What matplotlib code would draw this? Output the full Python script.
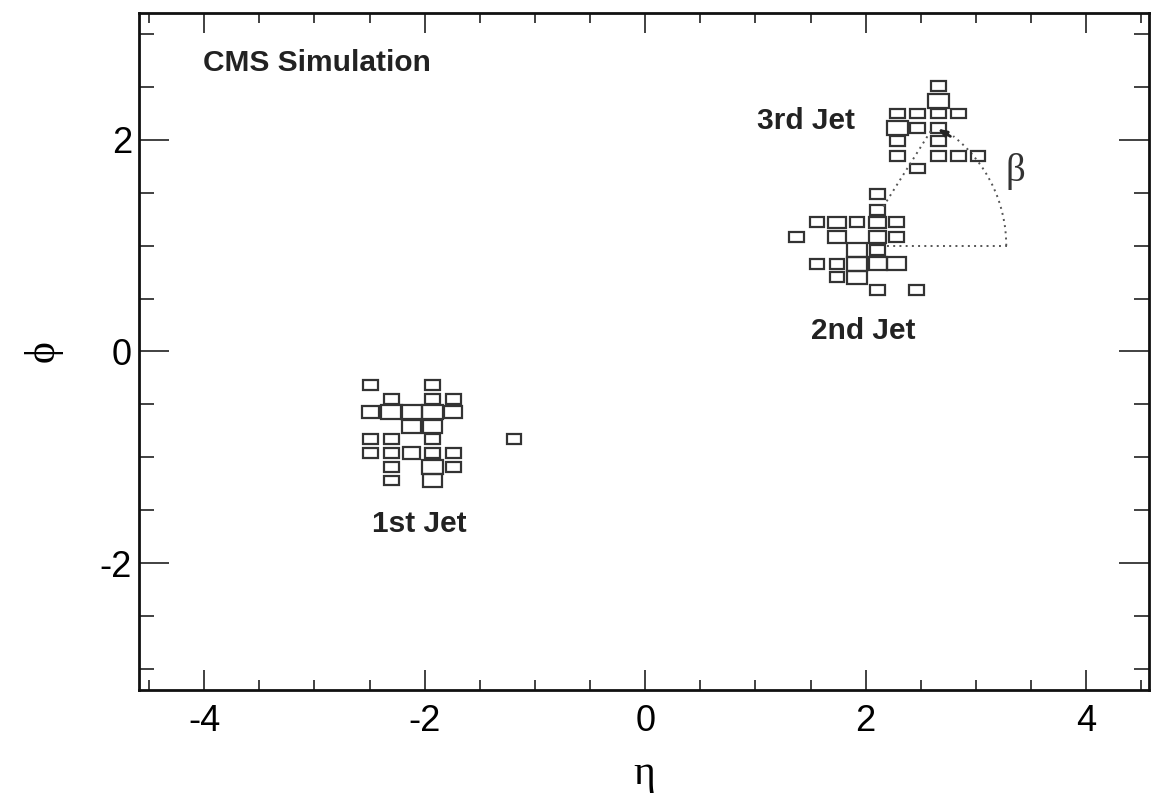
import matplotlib
matplotlib.use("Agg")
import matplotlib.pyplot as plt
from matplotlib.patches import Rectangle, Arc
from matplotlib.ticker import MultipleLocator

plt.rcParams['font.family'] = ['Liberation Sans', 'DejaVu Sans']
plt.rcParams['axes.unicode_minus'] = False

# calorimeter towers: eta, phi, relative box size
jet1_eta = [-2.49, -1.93,
            -2.30, -1.93, -1.74,
            -2.49, -2.30, -2.12, -1.93, -1.74,
            -2.12, -1.93,
            -2.49, -2.30, -1.93, -1.19,
            -2.49, -2.30, -2.12, -1.93, -1.74,
            -2.30, -1.93, -1.74,
            -2.30, -1.93]
jet1_phi = [-0.32, -0.32,
            -0.45, -0.45, -0.45,
            -0.57, -0.57, -0.57, -0.57, -0.57,
            -0.71, -0.71,
            -0.83, -0.83, -0.83, -0.83,
            -0.96, -0.96, -0.96, -0.96, -0.96,
            -1.09, -1.09, -1.09,
            -1.22, -1.22]
jet1_size = [0.72, 0.72,
             0.72, 0.72, 0.72,
             0.85, 1.0, 1.0, 1.0, 0.87,
             0.9, 0.9,
             0.72, 0.72, 0.72, 0.72,
             0.72, 0.72, 0.82, 0.72, 0.72,
             0.72, 1.0, 0.72,
             0.72, 0.9]

jet2_eta = [2.11, 2.11,
            1.56, 1.74, 1.92, 2.11, 2.28,
            1.37, 1.74, 2.11, 2.28,
            1.92, 2.11,
            1.56, 1.74, 1.92, 2.11, 2.28,
            1.74, 1.92,
            2.11, 2.46]
jet2_phi = [1.485, 1.34,
            1.22, 1.22, 1.22, 1.22, 1.22,
            1.085, 1.085, 1.085, 1.085,
            0.96, 0.96,
            0.83, 0.83, 0.83, 0.83, 0.83,
            0.70, 0.70,
            0.58, 0.58]
jet2_size = [0.72, 0.72,
             0.72, 0.85, 0.72, 0.85, 0.72,
             0.72, 0.85, 0.85, 0.72,
             1.0, 0.72,
             0.72, 0.72, 1.0, 0.9, 0.95,
             0.72, 1.0,
             0.72, 0.72]

jet3_eta = [2.66, 2.66,
            2.29, 2.47, 2.66, 2.84,
            2.29, 2.47, 2.66,
            2.29, 2.66,
            2.29, 2.66, 2.84, 3.02,
            2.47]
jet3_phi = [2.51, 2.37,
            2.25, 2.25, 2.25, 2.25,
            2.11, 2.11, 2.11,
            1.99, 1.99,
            1.85, 1.85, 1.85, 1.85,
            1.73]
jet3_size = [0.72, 1.05,
             0.72, 0.72, 0.72, 0.72,
             1.0, 0.72, 0.72,
             0.72, 0.72,
             0.72, 0.72, 0.72, 0.72,
             0.72]

jet_labels = ["1st Jet", "2nd Jet", "3rd Jet"]
label_eta = [-2.05, 1.98, 1.46]
label_phi = [-1.71, 0.114, 2.10]

d_eta = 0.185
d_phi = 0.13

fig = plt.figure(figsize=(11.54, 7.95), dpi=100)
ax = fig.add_axes([0.1205, 0.1321, 0.8752, 0.8516])

# angle construction between 2nd and 3rd jet
ax.plot([2.19, 3.28], [1.0, 1.0], ls=(0, (1, 2.2)), color="#555555", lw=1.4)
ax.plot([2.16, 2.60], [1.37, 2.10], ls=(0, (1, 2.2)), color="#555555", lw=1.4)
ax.add_patch(Arc((1.985, 1.0), 2 * 1.29, 2 * 1.33, theta1=0, theta2=52,
                 ls=(0, (1, 2.2)), color="#555555", lw=1.4))
ax.annotate("", xy=(2.63, 2.12), xytext=(2.79, 2.02),
            arrowprops=dict(arrowstyle="-|>,head_length=0.5,head_width=0.18",
                            color="#222222", lw=2))

for etas, phis, sizes in [(jet1_eta, jet1_phi, jet1_size),
                          (jet2_eta, jet2_phi, jet2_size),
                          (jet3_eta, jet3_phi, jet3_size)]:
    for e, p, s in zip(etas, phis, sizes):
        w = s * d_eta
        h = s * d_phi
        ax.add_patch(Rectangle((e - w / 2, p - h / 2), w, h, facecolor="none",
                               edgecolor="#333333", lw=1.6))

for txt, x, y in zip(jet_labels, label_eta, label_phi):
    ax.text(x, y, txt, ha="center", va="baseline", fontsize=21.5,
            fontweight="bold", color="#222222")

ax.text(-4.01, 2.65, "CMS Simulation", ha="left", va="baseline", fontsize=21.5,
        fontweight="bold", color="#222222")
ax.text(3.36, 1.70, "β", ha="center", va="center", fontsize=28,
        family=["Liberation Serif", "DejaVu Serif"], color="#333333")

ax.set_xlim(-4.59, 4.57)
ax.set_ylim(-3.2, 3.2)
ax.xaxis.set_major_locator(MultipleLocator(2))
ax.xaxis.set_minor_locator(MultipleLocator(0.5))
ax.yaxis.set_major_locator(MultipleLocator(2))
ax.yaxis.set_minor_locator(MultipleLocator(0.5))

ax.tick_params(axis="both", which="both", direction="in", top=True, right=True,
               width=1.3, color="#333333", labelsize=26)
ax.tick_params(axis="x", which="major", length=14.4, pad=10)
ax.tick_params(axis="x", which="minor", length=7.2)
ax.tick_params(axis="y", which="major", length=21.6, pad=5)
ax.tick_params(axis="y", which="minor", length=10.8)
for sp in ax.spines.values():
    sp.set_linewidth(2)
    sp.set_color("#111111")

ax.set_xlabel("η", fontsize=30, family=["Liberation Serif", "DejaVu Serif"],
              labelpad=11)
ax.set_ylabel("ϕ", fontsize=30, family=["Liberation Serif", "DejaVu Serif"],
              labelpad=27)

fig.savefig("out.png", dpi=100)
